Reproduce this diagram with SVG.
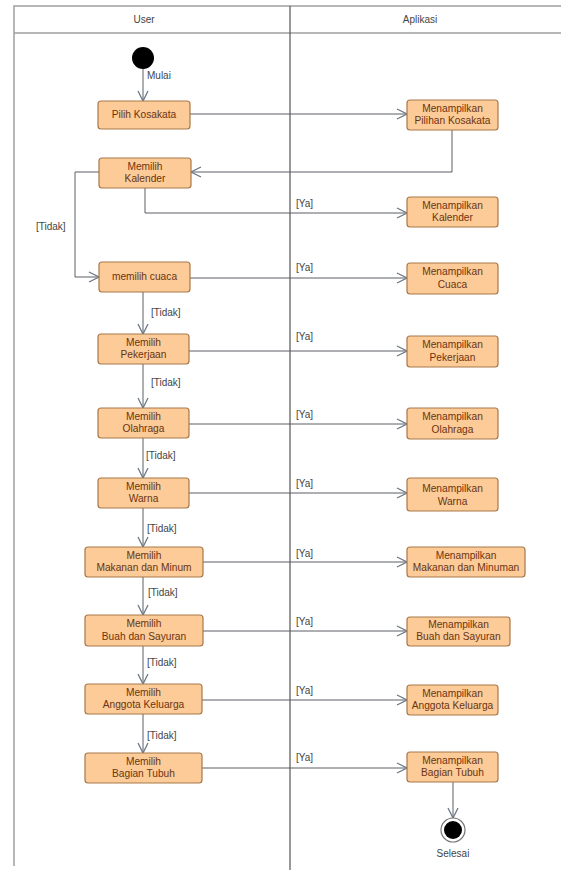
<svg xmlns="http://www.w3.org/2000/svg" width="561" height="870" viewBox="0 0 561 870">
  <style>
    .lane { fill: none; stroke: #a0a0a0; stroke-width: 1.5; }
    .divider { stroke: #555; stroke-width: 1.2; }
    .head { font-family: "Liberation Sans", Arial, sans-serif; font-size: 10px; fill: #444; text-anchor: middle; }
    .act rect { fill: #fccb97; stroke: #a8784a; stroke-width: 1.2; }
    .act text { font-family: "Liberation Sans", Arial, sans-serif; font-size: 10.2px; fill: #6b3412; text-anchor: middle; }
    .flow { fill: none; stroke: #5a5f66; stroke-width: 1; marker-end: url(#open); }
    .guard { font-family: "Liberation Sans", Arial, sans-serif; font-size: 10px; fill: #444; }
  </style>
  <defs>
    <marker id="open" viewBox="0 0 12 12" refX="11" refY="6" markerWidth="12" markerHeight="12" markerUnits="userSpaceOnUse" orient="auto">
      <path d="M1,1 L11,6 L1,11" fill="none" stroke="#6a7888" stroke-width="1.3"/>
    </marker>
  </defs>
  <rect width="561" height="870" fill="#fff"/>

  <!-- swimlanes -->
  <g id="lanes">
    <path class="lane" d="M14,866 L14,6 L561,6 M14,33 L561,33"/>
    <line class="divider" x1="290" y1="6" x2="290" y2="870"/>
    <text class="head" x="144" y="23">User</text>
    <text class="head" x="420" y="23">Aplikasi</text>
  </g>

  <!-- connectors -->
  <g id="connectors">
    <path class="flow" d="M143,69 L143,101"/>
    <path class="flow" d="M190,114 L407,114"/>
    <path class="flow" d="M452,130 L452,172 L191,172"/>
    <path class="flow" d="M145,188 L145,213 L407,213"/>
    <path class="flow" d="M99,172 L75,172 L75,277 L99,277"/>
    <path class="flow" d="M190,278 L407,278"/>
    <path class="flow" d="M143,292 L143,334"/>
    <path class="flow" d="M189,351 L407,351"/>
    <path class="flow" d="M143,364 L143,408"/>
    <path class="flow" d="M189,424 L407,424"/>
    <path class="flow" d="M143,438 L143,478"/>
    <path class="flow" d="M189,493 L407,493"/>
    <path class="flow" d="M143,508 L143,547"/>
    <path class="flow" d="M203,562 L407,562"/>
    <path class="flow" d="M143,577 L143,615"/>
    <path class="flow" d="M203,631 L407,631"/>
    <path class="flow" d="M143,646 L143,684"/>
    <path class="flow" d="M202,700 L407,700"/>
    <path class="flow" d="M143,714 L143,753"/>
    <path class="flow" d="M202,768 L407,768"/>
    <path class="flow" d="M453,782 L453,818"/>

    <text class="guard" x="147" y="79">Mulai</text>
    <text class="guard" x="36" y="230">[Tidak]</text>
    <text class="guard" x="296" y="207">[Ya]</text>
    <text class="guard" x="296" y="271">[Ya]</text>
    <text class="guard" x="151" y="316">[Tidak]</text>
    <text class="guard" x="296" y="340">[Ya]</text>
    <text class="guard" x="151" y="386">[Tidak]</text>
    <text class="guard" x="296" y="418">[Ya]</text>
    <text class="guard" x="146" y="459">[Tidak]</text>
    <text class="guard" x="296" y="487">[Ya]</text>
    <text class="guard" x="147" y="532">[Tidak]</text>
    <text class="guard" x="296" y="557">[Ya]</text>
    <text class="guard" x="148" y="596">[Tidak]</text>
    <text class="guard" x="296" y="625">[Ya]</text>
    <text class="guard" x="147" y="666">[Tidak]</text>
    <text class="guard" x="296" y="694">[Ya]</text>
    <text class="guard" x="147" y="739">[Tidak]</text>
    <text class="guard" x="296" y="761">[Ya]</text>
  </g>

  <!-- initial and final nodes -->
  <g id="start"><circle cx="143" cy="58" r="11" fill="#000"/></g>
  <g id="end">
    <circle cx="453" cy="830" r="12" fill="#fff" stroke="#777" stroke-width="1.2"/>
    <circle cx="453" cy="830" r="9" fill="#000"/>
    <text class="guard" x="453" y="857" text-anchor="middle">Selesai</text>
  </g>

  <!-- User actions -->
  <g id="pilih-kosakata" class="act"><rect x="98" y="101" width="92" height="28" rx="3"/><text x="144" y="118">Pilih Kosakata</text></g>
  <g id="memilih-kalender" class="act"><rect x="99" y="158" width="92" height="30" rx="3"/><text x="145" y="170">Memilih</text><text x="145" y="182">Kalender</text></g>
  <g id="memilih-cuaca" class="act"><rect x="99" y="262" width="91" height="30" rx="3"/><text x="144.5" y="280">memilih cuaca</text></g>
  <g id="memilih-pekerjaan" class="act"><rect x="98" y="334" width="91" height="30" rx="3"/><text x="143.5" y="346">Memilih</text><text x="143.5" y="358">Pekerjaan</text></g>
  <g id="memilih-olahraga" class="act"><rect x="98" y="408" width="91" height="30" rx="3"/><text x="143.5" y="420">Memilih</text><text x="143.5" y="432">Olahraga</text></g>
  <g id="memilih-warna" class="act"><rect x="98" y="478" width="91" height="30" rx="3"/><text x="143.5" y="490">Memilih</text><text x="143.5" y="502">Warna</text></g>
  <g id="memilih-makanan" class="act"><rect x="85" y="547" width="118" height="30" rx="3"/><text x="144" y="559">Memilih</text><text x="144" y="571">Makanan dan Minum</text></g>
  <g id="memilih-buah" class="act"><rect x="85" y="615" width="118" height="31" rx="3"/><text x="144" y="627">Memilih</text><text x="144" y="640">Buah dan Sayuran</text></g>
  <g id="memilih-anggota" class="act"><rect x="85" y="684" width="117" height="30" rx="3"/><text x="143.5" y="696">Memilih</text><text x="143.5" y="708">Anggota Keluarga</text></g>
  <g id="memilih-tubuh" class="act"><rect x="85" y="753" width="117" height="30" rx="3"/><text x="143.5" y="765">Memilih</text><text x="143.5" y="777">Bagian Tubuh</text></g>

  <!-- Aplikasi actions -->
  <g id="tampil-kosakata" class="act"><rect x="407" y="100" width="91" height="30" rx="3"/><text x="452.5" y="112">Menampilkan</text><text x="452.5" y="124">Pilihan Kosakata</text></g>
  <g id="tampil-kalender" class="act"><rect x="407" y="197" width="91" height="30" rx="3"/><text x="452.5" y="209">Menampilkan</text><text x="452.5" y="221">Kalender</text></g>
  <g id="tampil-cuaca" class="act"><rect x="407" y="263" width="91" height="31" rx="3"/><text x="452.5" y="275">Menampilkan</text><text x="452.5" y="288">Cuaca</text></g>
  <g id="tampil-pekerjaan" class="act"><rect x="407" y="336" width="91" height="31" rx="3"/><text x="452.5" y="348">Menampilkan</text><text x="452.5" y="361">Pekerjaan</text></g>
  <g id="tampil-olahraga" class="act"><rect x="407" y="408" width="91" height="31" rx="3"/><text x="452.5" y="420">Menampilkan</text><text x="452.5" y="433">Olahraga</text></g>
  <g id="tampil-warna" class="act"><rect x="407" y="478" width="91" height="33" rx="3"/><text x="452.5" y="492">Menampilkan</text><text x="452.5" y="505">Warna</text></g>
  <g id="tampil-makanan" class="act"><rect x="407" y="547" width="118" height="30" rx="3"/><text x="466" y="559">Menampilkan</text><text x="466" y="571">Makanan dan Minuman</text></g>
  <g id="tampil-buah" class="act"><rect x="407" y="617" width="103" height="29" rx="3"/><text x="458.5" y="628">Menampilkan</text><text x="458.5" y="640">Buah dan Sayuran</text></g>
  <g id="tampil-anggota" class="act"><rect x="407" y="685" width="91" height="30" rx="3"/><text x="452.5" y="697">Menampilkan</text><text x="452.5" y="709">Anggota Keluarga</text></g>
  <g id="tampil-tubuh" class="act"><rect x="407" y="752" width="91" height="30" rx="3"/><text x="452.5" y="764">Menampilkan</text><text x="452.5" y="776">Bagian Tubuh</text></g>
</svg>
